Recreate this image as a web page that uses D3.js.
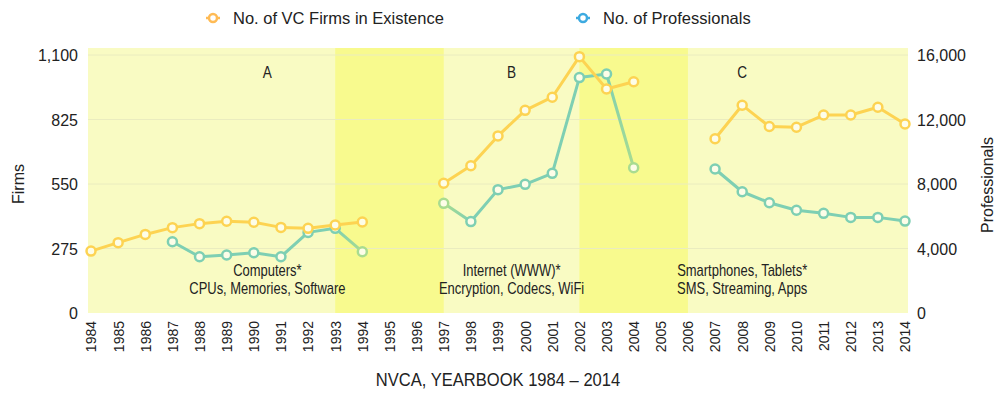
<!DOCTYPE html>
<html>
<head>
<meta charset="utf-8">
<script src="https://cdn.jsdelivr.net/npm/d3@7/dist/d3.min.js"></script>
<style>
  body { margin: 0; background: #fff; }
  text { font-family: "Liberation Sans", Arial, sans-serif; fill: #222; }
</style>
</head>
<body>
<svg id="chart" width="1006" height="397"></svg>
<script>
// years on the x axis
const years = d3.range(1984, 2015)

// No. of VC firms in existence (left axis)
const firmYears = [1984, 1985, 1986, 1987, 1988, 1989, 1990, 1991, 1992, 1993, 1994,
                   1997, 1998, 1999, 2000, 2001, 2002, 2003, 2004,
                   2007, 2008, 2009, 2010, 2011, 2012, 2013, 2014]
const firms = [264, 300, 335, 364, 381, 391, 387, 365, 361, 375, 388,
               553, 628, 755, 864, 920, 1093, 955, 986,
               743, 886, 795, 792, 844, 844, 877, 806]

// No. of professionals (right axis)
const profYears = [1987, 1988, 1989, 1990, 1991, 1992, 1993, 1994,
                   1997, 1998, 1999, 2000, 2001, 2002, 2003, 2004,
                   2007, 2008, 2009, 2010, 2011, 2012, 2013, 2014]
const professionals = [4420, 3490, 3600, 3740, 3490, 5000, 5250, 3800,
                       6800, 5670, 7650, 7980, 8660, 14600, 14820, 9010,
                       8930, 7520, 6840, 6370, 6180, 5930, 5930, 5700]

// line breaks between eras
const segments = [[1984, 1994], [1997, 2004], [2007, 2014]]

const leftTicks = [0, 275, 550, 825, 1100]
const rightTicks = [0, 4000, 8000, 12000, 16000]

// shaded gap periods
const gaps = [[1993, 1997], [2002, 2006]]

// professionals points that fade to green near the gaps
const fadedYears = [1994, 1997, 2004]

// era annotations
const eras = [
    { year: 1990.5, letter: 'A', lines: ['Computers*', 'CPUs, Memories, Software'] },
    { year: 1999.5, letter: 'B', lines: ['Internet (WWW)*', 'Encryption, Codecs, WiFi'] },
    { year: 2008, letter: 'C', lines: ['Smartphones, Tablets*', 'SMS, Streaming, Apps'] }
]

const legendItems = ['No. of VC Firms in Existence', 'No. of Professionals']

let svg = d3.select('#chart')
let defs = svg.append('defs')

let plotLeft = 88, plotRight = 908, plotTop = 48, plotBottom = 313

let x = d3.scaleLinear().domain([1984, 2014]).range([91, 905])
let yL = d3.scaleLinear().domain([0, 1100]).range([plotBottom, 55])
let yR = d3.scaleLinear().domain([0, 16000]).range([plotBottom, 55])

let firmColor = '#fdd352',
    profColor = '#7ecfb3',
    fadeColor = '#a9dc90'

// condensed text helper (no narrow font installed)
function narrowText(px, py, str, size, squeeze) {
    return svg.append('text')
        .attr('transform', 'translate(' + px + ',' + py + ') scale(' + squeeze + ',1)')
        .attr('text-anchor', 'middle')
        .style('font-size', size + 'px')
        .text(str)
}

// background bands
svg.append('rect')
    .attr('x', plotLeft).attr('y', plotTop)
    .attr('width', plotRight - plotLeft).attr('height', plotBottom - plotTop)
    .attr('fill', '#f9fbc3')

svg.selectAll('.gap')
    .data(gaps)
    .enter().append('rect')
    .attr('class', 'gap')
    .attr('x', d => x(d[0]))
    .attr('y', plotTop)
    .attr('width', d => x(d[1]) - x(d[0]))
    .attr('height', plotBottom - plotTop)
    .attr('fill', '#f8fa8e')

// gridlines
svg.selectAll('.grid')
    .data(leftTicks.slice(1))
    .enter().append('line')
    .attr('x1', plotLeft).attr('x2', plotRight)
    .attr('y1', d => yL(d)).attr('y2', d => yL(d))
    .attr('stroke', '#eaecbf')
    .attr('stroke-width', 1)

// axes
let leftAxis = svg.append('g')
    .attr('transform', 'translate(' + (plotLeft - 10) + ',0)')
    .call(d3.axisLeft(yL).tickValues(leftTicks).tickSize(0).tickPadding(0).tickFormat(d3.format(',')))
leftAxis.select('.domain').remove()
leftAxis.selectAll('text').style('font-size', '16px').attr('fill', '#222').attr('dy', '0.35em')

let rightAxis = svg.append('g')
    .attr('transform', 'translate(' + (plotRight + 9) + ',0)')
    .call(d3.axisRight(yR).tickValues(rightTicks).tickSize(0).tickPadding(0).tickFormat(d3.format(',')))
rightAxis.select('.domain').remove()
rightAxis.selectAll('text').style('font-size', '16px').attr('fill', '#222').attr('dy', '0.35em')

let bottomAxis = svg.append('g')
    .attr('transform', 'translate(0,' + (plotBottom + 8) + ')')
    .call(d3.axisBottom(x).tickValues(years).tickSize(0).tickPadding(0).tickFormat(d3.format('d')))
bottomAxis.select('.domain').remove()
bottomAxis.selectAll('text')
    .style('font-size', '14px')
    .attr('fill', '#222')
    .attr('transform', 'rotate(-90)')
    .attr('text-anchor', 'end')
    .attr('x', 0).attr('y', 0)
    .attr('dx', 0).attr('dy', '0.35em')

// axis titles
svg.append('text')
    .attr('transform', 'translate(24,184) rotate(-90)')
    .attr('text-anchor', 'middle')
    .style('font-size', '16px')
    .text('Firms')

svg.append('text')
    .attr('transform', 'translate(993,185) rotate(-90)')
    .attr('text-anchor', 'middle')
    .style('font-size', '16px')
    .text('Professionals')

narrowText((plotLeft + plotRight) / 2, 386, 'NVCA, YEARBOOK 1984 \u2013 2014', 18, 0.92)

// era annotations
eras.forEach(function (e) {
    narrowText(x(e.year), 78, e.letter, 16, 0.85)
    e.lines.forEach(function (t, i) {
        narrowText(x(e.year), 276 + i * 18, t, 16, 0.81)
    })
})

// build series points
function pts(ys, vals) {
    return ys.map((yr, i) => ({ year: yr, value: vals[i] }))
}
let firmPts = pts(firmYears, firms)
let profPts = pts(profYears, professionals)

let gradCount = 0

function drawSeries(data, yScale, colorOf) {
    segments.forEach(function (s) {
        let part = data.filter(d => d.year >= s[0] && d.year <= s[1])
        for (let i = 1; i < part.length; i++) {
            let a = part[i - 1], b = part[i]
            let x1 = x(a.year), y1 = yScale(a.value), x2 = x(b.year), y2 = yScale(b.value)
            let stroke = colorOf(a)
            if (colorOf(a) !== colorOf(b)) {
                gradCount = gradCount + 1
                let id = 'seg-' + gradCount
                let grad = defs.append('linearGradient')
                    .attr('id', id)
                    .attr('gradientUnits', 'userSpaceOnUse')
                    .attr('x1', x1).attr('y1', y1).attr('x2', x2).attr('y2', y2)
                grad.append('stop').attr('offset', 0).attr('stop-color', colorOf(a))
                grad.append('stop').attr('offset', 1).attr('stop-color', colorOf(b))
                stroke = 'url(#' + id + ')'
            }
            svg.append('line')
                .attr('x1', x1).attr('y1', y1).attr('x2', x2).attr('y2', y2)
                .attr('stroke', stroke)
                .attr('stroke-width', 3)
                .attr('stroke-linecap', 'round')
        }
    })
    svg.selectAll(null)
        .data(data)
        .enter().append('circle')
        .attr('cx', d => x(d.year))
        .attr('cy', d => yScale(d.value))
        .attr('r', 4.5)
        .attr('fill', '#fdfde8')
        .attr('stroke', d => colorOf(d))
        .attr('stroke-width', 2.5)
}

drawSeries(profPts, yR, d => fadedYears.includes(d.year) ? fadeColor : profColor)
drawSeries(firmPts, yL, d => firmColor)

// legend
let legendColors = ['#ffbb55', '#3daae0']
let legendX = [213, 583]
legendItems.forEach(function (name, i) {
    let g = svg.append('g').attr('transform', 'translate(' + legendX[i] + ',18)')
    g.append('line')
        .attr('x1', -7).attr('x2', 7)
        .attr('stroke', legendColors[i]).attr('stroke-width', 2.5)
    g.append('circle')
        .attr('r', 4)
        .attr('fill', '#fff')
        .attr('stroke', legendColors[i]).attr('stroke-width', 2.5)
    g.append('text')
        .attr('x', 20).attr('dy', '0.35em')
        .style('font-size', '16.5px')
        .text(name)
})
</script>
</body>
</html>
